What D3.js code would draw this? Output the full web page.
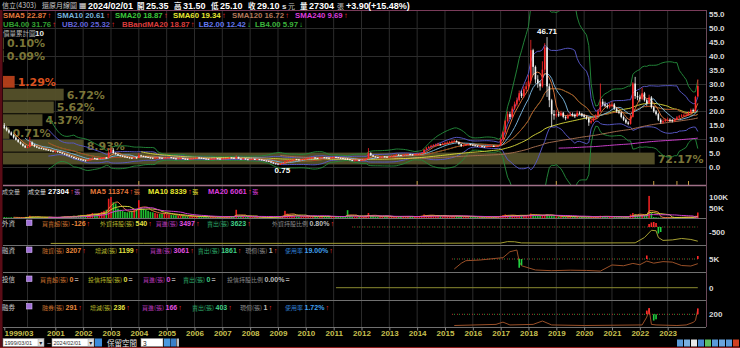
<!DOCTYPE html>
<html><head><meta charset="utf-8">
<script src="https://cdn.jsdelivr.net/npm/d3@7/dist/d3.min.js"></script>
<style>html,body{margin:0;padding:0;background:#000;overflow:hidden}svg{display:block}</style>
</head><body>
<svg id="chart" width="740" height="348"></svg>
<script>
// ================= DATA (monthly, 1999/03 .. 2024/02, adjusted prices) =================
const open = [
 15.0,14.0,13.2,12.4,11.5,10.6,9.8,9.0,8.3,7.6,
 7.0,7.2,8.8,8.0,7.4,7.0,6.8,6.6,6.4,6.2,6.0,5.7,
 5.5,5.6,5.4,5.2,4.8,4.5,4.2,3.9,3.6,3.2,3.0,2.8,
 2.6,2.4,2.2,2.5,3.0,3.2,3.0,2.9,3.1,3.2,3.4,3.3,
 5.2,6.2,5.0,4.6,4.2,4.0,3.8,3.6,3.4,3.3,3.2,3.4,
 3.3,4.2,3.9,3.8,3.6,3.4,3.3,3.2,3.3,3.4,3.3,3.2,
 3.3,3.4,3.5,3.3,3.1,3.0,3.1,3.2,3.0,2.9,2.8,3.0,
 3.1,3.2,3.4,3.3,3.2,3.0,2.9,2.8,2.9,3.0,3.1,3.0,
 2.9,3.0,3.1,3.2,3.4,3.3,3.1,3.6,3.0,2.9,3.0,2.8,
 2.7,2.8,2.9,2.7,2.8,2.7,2.5,2.3,2.2,2.0,1.6,1.3,
 1.2,1.0,1.1,1.5,2.0,2.4,2.5,2.6,2.8,2.7,2.6,2.7,
 2.9,3.0,3.2,3.3,3.4,3.2,3.1,3.3,3.5,3.4,3.3,3.2,
 3.4,3.6,3.5,3.3,3.2,3.0,2.9,2.8,2.5,2.3,2.4,2.5,
 2.4,2.5,2.7,3.0,5.0,4.2,3.8,3.6,3.5,3.6,3.8,3.7,
 3.6,3.8,4.0,4.2,4.4,4.3,4.2,4.4,4.5,4.6,4.5,4.4,
 4.6,4.6,4.8,5.0,6.2,6.8,7.2,7.6,7.8,8.0,8.2,8.0,
 8.4,8.6,8.8,9.0,9.2,9.4,9.0,8.2,7.6,7.8,8.0,8.2,
 8.0,7.8,7.6,7.4,7.5,7.3,7.2,7.4,7.5,7.6,7.4,7.5,
 7.8,10.0,12.5,16.5,19.0,18.0,21.0,22.5,24.0,26.5,25.5,28.0,
 29.0,31.0,42.0,36.0,31.5,30.0,29.0,35.0,43.0,29.0,24.0,19.0,
 18.5,19.0,18.5,19.5,18.0,17.5,18.5,19.0,18.8,18.2,19.5,19.2,
 18.5,18.0,17.5,16.0,16.5,17.5,18.5,20.0,23.5,22.5,22.0,21.5,
 22.0,22.5,21.0,20.0,19.5,18.0,17.0,16.0,15.5,18.0,30.0,25.5,
 25.0,24.5,26.5,24.0,23.0,25.0,21.5,20.0,19.0,17.0,16.0,16.5,
 17.0,17.0,16.8,16.5,17.0,17.8,18.2,18.5,18.6,18.65,19.5,20.5,
 20.05,25.35
];
const high = [
 15.8,14.6,13.6,12.8,11.8,10.9,10.1,9.2,8.5,7.9,
 7.6,10.8,9.2,8.3,7.6,7.2,7.0,6.8,6.6,6.4,6.2,5.9,
 5.9,5.8,5.6,5.3,5.0,4.7,4.4,4.0,3.7,3.4,3.2,3.0,
 2.8,2.6,2.7,3.2,3.5,3.4,3.2,3.3,3.4,3.6,3.6,6.8,
 7.2,6.8,5.3,4.8,4.4,4.2,4.0,3.8,3.6,3.5,3.6,3.6,
 5.0,4.4,4.1,3.9,3.7,3.5,3.4,3.5,3.6,3.5,3.4,3.5,
 3.6,3.7,3.6,3.4,3.2,3.3,3.4,3.3,3.1,3.0,3.2,3.3,
 3.4,3.6,3.5,3.4,3.3,3.1,3.0,3.1,3.2,3.3,3.2,3.1,
 3.2,3.3,3.4,3.6,3.5,3.4,4.2,3.7,3.1,3.2,3.1,2.9,
 3.0,3.1,3.0,2.9,2.9,2.8,2.6,2.4,2.3,2.1,1.7,1.4,
 1.3,1.2,1.6,2.2,2.6,2.7,2.8,3.0,2.9,2.8,2.9,3.1,
 3.2,3.4,3.5,3.6,3.5,3.3,3.5,3.7,3.6,3.5,3.4,3.6,
 3.8,3.7,3.6,3.4,3.3,3.1,3.2,2.9,2.6,2.6,2.7,2.6,
 2.7,2.9,3.2,6.8,5.3,4.4,3.9,3.7,3.8,4.0,3.9,3.8,
 4.0,4.2,4.4,4.7,4.6,4.4,4.6,4.8,4.9,4.8,4.6,4.8,
 4.9,5.0,5.3,6.5,7.2,7.6,8.0,8.2,8.4,8.7,8.4,8.8,
 9.0,9.2,9.4,9.6,9.9,9.6,9.1,8.3,8.1,8.3,8.5,8.4,
 8.2,8.0,7.8,7.7,7.6,7.5,7.6,7.7,7.8,7.8,7.7,8.0,
 10.5,13.0,17.0,20.0,19.8,21.8,23.5,25.0,27.5,27.5,29.0,30.5,
 33.0,45.7,42.5,36.5,33.0,31.0,38.0,44.5,46.71,30.0,24.5,20.5,
 20.5,19.8,20.2,19.8,18.5,19.2,19.8,19.6,19.2,20.3,20.0,19.5,
 19.0,18.5,18.0,17.2,18.0,19.0,20.8,30.0,24.5,23.5,22.8,23.0,
 23.5,23.0,21.5,20.5,20.0,18.5,17.5,16.5,18.8,30.5,32.4,27.0,
 26.0,28.5,27.0,24.5,26.0,25.5,22.0,20.5,19.5,17.5,17.2,17.5,
 17.8,17.5,17.2,17.5,18.3,18.7,19.0,19.2,19.2,20.0,21.0,21.0,
 25.6,31.5
];
const low = [
 13.6,12.8,12.0,11.2,10.2,9.5,8.7,8.0,7.3,6.8,
 6.7,7.0,7.7,7.1,6.8,6.5,6.4,6.2,6.0,5.8,5.5,5.3,
 5.3,5.2,5.0,4.6,4.3,4.0,3.7,3.4,3.0,2.8,2.6,2.4,
 2.2,2.0,2.1,2.4,2.9,2.9,2.7,2.8,3.0,3.1,3.1,3.2,
 4.9,4.8,4.4,4.0,3.8,3.6,3.4,3.2,3.1,3.0,3.1,3.1,
 3.2,3.8,3.6,3.4,3.3,3.1,3.0,3.1,3.2,3.1,3.0,3.1,
 3.2,3.3,3.2,3.0,2.8,2.9,3.0,2.9,2.7,2.6,2.7,2.9,
 3.0,3.1,3.2,3.1,2.9,2.8,2.7,2.7,2.8,2.9,2.9,2.8,
 2.8,2.9,3.0,3.1,3.2,3.0,3.0,2.9,2.8,2.8,2.7,2.5,
 2.6,2.7,2.6,2.6,2.6,2.4,2.2,2.1,1.8,1.4,1.1,1.0,
 0.9,0.75,1.0,1.4,1.9,2.3,2.4,2.5,2.6,2.5,2.5,2.6,
 2.8,2.9,3.1,3.2,3.1,3.0,3.0,3.2,3.3,3.2,3.1,3.1,
 3.3,3.4,3.2,3.1,2.9,2.8,2.6,2.4,2.1,2.2,2.3,2.2,
 2.3,2.4,2.6,2.9,4.0,3.6,3.4,3.3,3.4,3.5,3.5,3.4,
 3.5,3.7,3.9,4.1,4.1,4.0,4.1,4.3,4.4,4.3,4.2,4.3,
 4.4,4.5,4.7,4.9,6.0,6.6,7.0,7.3,7.5,7.8,7.7,7.9,
 8.2,8.4,8.6,8.8,9.0,8.8,8.0,7.2,7.4,7.6,7.8,7.8,
 7.6,7.4,7.2,7.2,7.1,7.0,7.1,7.2,7.3,7.2,7.2,7.4,
 7.6,9.6,12.0,16.0,17.2,17.6,20.5,21.8,23.5,24.8,25.0,27.2,
 28.0,30.0,33.0,30.0,28.5,27.5,28.5,34.0,25.2,21.5,14.4,17.0,
 17.8,18.0,18.2,17.5,16.8,17.2,18.2,18.2,17.6,18.0,18.8,18.0,
 17.5,17.0,14.8,15.5,16.2,17.2,18.2,19.8,21.8,21.5,21.0,21.0,
 21.5,20.5,19.5,19.0,17.5,16.5,15.5,15.0,15.2,17.8,24.5,24.0,
 23.5,24.0,23.5,22.0,22.5,21.0,19.5,18.5,16.5,15.5,15.5,16.2,
 16.3,16.2,16.0,16.2,16.8,17.5,17.9,18.1,18.2,18.4,19.2,19.6,
 19.8,25.1
];
const close = [
 14.0,13.2,12.4,11.5,10.6,9.8,9.0,8.3,7.6,7.0,
 7.2,8.8,8.0,7.4,7.0,6.8,6.6,6.4,6.2,6.0,5.7,5.5,
 5.6,5.4,5.2,4.8,4.5,4.2,3.9,3.6,3.2,3.0,2.8,2.6,
 2.4,2.2,2.5,3.0,3.2,3.0,2.9,3.1,3.2,3.4,3.3,5.2,
 6.2,5.0,4.6,4.2,4.0,3.8,3.6,3.4,3.3,3.2,3.4,3.3,
 4.2,3.9,3.8,3.6,3.4,3.3,3.2,3.3,3.4,3.3,3.2,3.3,
 3.4,3.5,3.3,3.1,3.0,3.1,3.2,3.0,2.9,2.8,3.0,3.1,
 3.2,3.4,3.3,3.2,3.0,2.9,2.8,2.9,3.0,3.1,3.0,2.9,
 3.0,3.1,3.2,3.4,3.3,3.1,3.6,3.0,2.9,3.0,2.8,2.7,
 2.8,2.9,2.7,2.8,2.7,2.5,2.3,2.2,2.0,1.6,1.3,1.2,
 1.0,1.1,1.5,2.0,2.4,2.5,2.6,2.8,2.7,2.6,2.7,2.9,
 3.0,3.2,3.3,3.4,3.2,3.1,3.3,3.5,3.4,3.3,3.2,3.4,
 3.6,3.5,3.3,3.2,3.0,2.9,2.8,2.5,2.3,2.4,2.5,2.4,
 2.5,2.7,3.0,5.0,4.2,3.8,3.6,3.5,3.6,3.8,3.7,3.6,
 3.8,4.0,4.2,4.4,4.3,4.2,4.4,4.5,4.6,4.5,4.4,4.6,
 4.6,4.8,5.0,6.2,6.8,7.2,7.6,7.8,8.0,8.2,8.0,8.4,
 8.6,8.8,9.0,9.2,9.4,9.0,8.2,7.6,7.8,8.0,8.2,8.0,
 7.8,7.6,7.4,7.5,7.3,7.2,7.4,7.5,7.6,7.4,7.5,7.8,
 10.0,12.5,16.5,19.0,18.0,21.0,22.5,24.0,26.5,25.5,28.0,29.0,
 31.0,42.0,36.0,31.5,30.0,29.0,35.0,43.0,29.0,24.0,19.0,18.5,
 19.0,18.5,19.5,18.0,17.5,18.5,19.0,18.8,18.2,19.5,19.2,18.5,
 18.0,17.5,16.0,16.5,17.5,18.5,20.0,23.5,22.5,22.0,21.5,22.0,
 22.5,21.0,20.0,19.5,18.0,17.0,16.0,15.5,18.0,30.0,25.5,25.0,
 24.5,26.5,24.0,23.0,25.0,21.5,20.0,19.0,17.0,16.0,16.5,17.0,
 17.0,16.8,16.5,17.0,17.8,18.2,18.5,18.6,18.65,19.5,20.5,20.05,
 25.2,29.1
];
// monthly volume, thousands of lots (張)
const volume = [
 6,5,4,5,4,3,4,3,3,4,
 5,12,8,6,5,4,5,4,3,4,3,3,
 4,5,6,8,10,8,7,9,12,10,14,16,
 15,14,18,20,25,22,20,25,30,35,40,92,
 100,75,70,45,40,35,30,28,32,35,40,45,
 85,50,45,40,35,30,28,25,22,20,22,25,
 20,18,16,15,14,12,12,11,10,10,9,9,
 9,8,8,7,8,7,6,7,6,6,7,6,
 6,7,8,10,9,8,40,12,9,8,7,6,
 6,5,5,6,5,4,4,4,5,6,7,8,
 9,10,12,35,22,18,14,12,10,9,8,9,
 10,9,8,9,8,7,8,9,10,8,7,8,
 9,8,7,8,9,10,38,12,9,8,7,6,
 6,7,12,25,15,10,8,7,8,9,8,7,
 7,8,9,8,7,8,9,8,7,8,9,8,
 9,10,12,18,15,14,13,12,11,12,10,9,
 12,10,9,10,11,12,9,8,7,8,9,8,
 7,6,6,7,6,6,7,7,6,7,8,9,
 12,15,18,14,12,15,13,12,14,13,12,15,
 16,22,18,14,12,11,15,16,18,14,12,10,
 9,8,7,8,7,8,9,8,7,8,7,7,
 7,6,8,7,6,7,9,12,10,8,7,8,
 8,7,6,7,6,6,7,8,18,25,20,15,
 18,15,16,20,105,25,6,5,4,3.5,3.5,3,
 3.2,3.2,3.2,3.2,5,5.5,5.3,5.2,5.5,6,5,6.6,
 12,27.304
];
// price-volume profile (價量累計圖, 10 bands, bottom to top), percent
const profilePct = [72.17, 8.93, 0.71, 4.37, 5.62, 6.72, 1.29, 0, 0.09, 0.10];
// x-axis labels
const yearLabels = ["1999/03","2001","2002","2003","2004","2005","2006","2007","2008","2009","2010","2011","2012","2013","2014","2015","2016","2017","2018","2019","2020","2021","2022","2023"];
const yearLabelMonth = [0,22,34,46,58,70,82,94,106,118,130,142,154,166,178,190,202,214,226,238,250,262,274,286];
const gridMonths = [10,22,34,46,58,70,82,94,106,118,130,142,154,166,178,190,202,214,226,238,250,262,274,286];
const priceTicks = [0,5,10,15,20,25,30,35,40,45,50,55];
const eventMonths = [58,178,238,280,290,295];
// foreign investors (外資): holdings line (sparse points) and net buy/sell bars
const fHoldMonths = [20,60,120,180,214,217,220,223,240,272,276,279,281,282,284,288,292,296,299];
const fHoldVals   = [80,100,90,110,150,450,420,180,150,200,1300,2800,2700,1300,700,800,1100,900,540];
const fNetMonths = [278,279,280,281,282,283];
const fNetVals   = [300,450,500,400,-650,-500];
// margin (融資) balance and change
const mBalMonths = [194,197,199,205,212,215,218,221,222,223,229,236,244,251,257,262,267,271,274,277,280,284,288,292,296,299];
const mBalVals   = [1150,3350,4350,4600,5250,5500,7800,8450,4000,2400,770,500,700,600,350,2700,2400,3300,2800,4200,3400,4000,3800,2500,2300,3207];
const mChgMonths = [222,223,277,299];
const mChgVals   = [-3500,-2500,1400,1199];
// investment trust (投信)
const tHoldMonths = [143,299];
const tHoldVals   = [0,0];
// short (融券) balance and change
const sBalMonths = [194,212,215,218,228,232,236,250,275,277,278,279,281,290,294,297,298,299];
const sBalVals   = [0,20,60,10,20,80,10,0,10,150,300,20,10,0,10,55,90,291];
const sChgMonths = [277,278,280,281,299];
const sChgVals   = [150,250,-250,-200,236];

// ================= RENDER =================
const svg = d3.select('#chart');
const FONT = "'Liberation Sans','DejaVu Sans',Arial,sans-serif";
const CJK = "'Noto Sans CJK TC','Noto Sans CJK SC','Noto Sans',sans-serif";
const N = close.length;
const PL = 3, PR = 706;
const x = d3.scaleLinear().domain([0, N-1]).range([4.3, 697.8]);
const y = d3.scaleLinear().domain([0,55]).range([167,14]);
const vy = d3.scaleLinear().domain([0,100]).range([218.3,197]);

svg.append('rect').attr('width',740).attr('height',348).attr('fill','#000');

function T(x0,y0,s,fill,size,opt={}){
  return svg.append('text').attr('x',x0).attr('y',y0).attr('fill',fill)
    .attr('font-size',size).attr('font-family',opt.cjk?CJK:FONT)
    .attr('font-weight',opt.bold?'bold':'normal').attr('text-anchor',opt.anchor||'start').text(s);
}
const W = t => t.node().getComputedTextLength();

// grid
const grid = svg.append('g');
gridMonths.forEach(m=>{
  grid.append('line').attr('x1',x(m)).attr('x2',x(m)).attr('y1',10).attr('y2',327)
    .attr('stroke','#2c2c2c').attr('stroke-width',1);
});
[0,10,20,30,40,50].forEach(v=>{
  grid.append('line').attr('x1',PL).attr('x2',PR).attr('y1',Math.round(y(v))+0.5).attr('y2',Math.round(y(v))+0.5)
    .attr('stroke','#2c2c2c').attr('stroke-width',1);
});

// clip paths
const defs = svg.append('defs');
defs.append('clipPath').attr('id','cm').append('rect').attr('x',PL).attr('y',10).attr('width',PR-PL).attr('height',175.5);
defs.append('clipPath').attr('id','cv').append('rect').attr('x',PL).attr('y',186).attr('width',PR-PL).attr('height',32.5);

// price-volume profile
const pLo = d3.min(low), pHi = d3.max(high), pStep = (pHi-pLo)/profilePct.length;
const pw = d3.scaleLinear().domain([0,100]).range([0,903]);
const lastClose = close[N-1];
const prof = svg.append('g');
profilePct.forEach((p,j)=>{
  const b0 = pLo + j*pStep, b1 = b0 + pStep;
  const cur = lastClose >= b0 && lastClose < b1;
  const yt = y(b1), yb = y(b0);
  prof.append('rect').attr('x',PL).attr('y',yt+0.5).attr('width',Math.max(pw(p),0.6)).attr('height',yb-yt-1)
    .attr('fill',cur?'#b8401a':'#55512a').attr('opacity',p>0?0.95:0);
  if(p>0){
    prof.append('text').attr('x',PL+pw(p)+3).attr('y',(yt+yb)/2+4)
      .attr('font-family',"'DejaVu Sans',sans-serif").attr('font-size',11).attr('font-weight','bold')
      .attr('fill',cur?'#d9501e':'#7a7538').text(d3.format('.2f')(p)+'%');
  }
});

// moving averages & bollinger
function sma(a,n){return a.map((_,i)=> i<n-1?null:d3.mean(a.slice(i-n+1,i+1)));}
function band(a,n,k){return a.map((_,i)=>{ if(i<n-1) return null; const s=a.slice(i-n+1,i+1); const m=d3.mean(s); const sd=Math.sqrt(d3.mean(s.map(v=>(v-m)*(v-m)))); return m+k*sd;});}
const lineGen = (sc)=> d3.line().defined(d=>d[1]!=null).x(d=>x(d[0])).y(d=>sc(d[1]));
const mainLines = [
  {v:band(close,20,4),c:'#23883a'},{v:band(close,20,-4),c:'#23883a'},
  {v:band(close,20,2),c:'#5858c8'},{v:band(close,20,-2),c:'#5858c8'},
  {v:sma(close,240),c:'#d040d0'},{v:sma(close,120),c:'#a87050'},
  {v:sma(close,60),c:'#d4d43a'},{v:sma(close,20),c:'#3cc83c'},
  {v:sma(close,20),c:'#b83222'},{v:sma(close,10),c:'#78b4dc'},{v:sma(close,5),c:'#e0783c'}
];
const lg = svg.append('g').attr('clip-path','url(#cm)');
mainLines.forEach(L=>{
  lg.append('path').datum(L.v.map((v,i)=>[i,v])).attr('d',lineGen(y)).attr('fill','none')
    .attr('stroke',L.c).attr('stroke-width',1).attr('opacity',0.95);
});

// candles
const cg = svg.append('g').attr('clip-path','url(#cm)');
for(let i=0;i<N;i++){
  const up = close[i] >= open[i];
  const col = up ? '#ff2a2a' : '#f2f2f2';
  cg.append('line').attr('x1',x(i)).attr('x2',x(i)).attr('y1',y(high[i])).attr('y2',y(low[i])).attr('stroke',col).attr('stroke-width',0.8);
  const yt = y(Math.max(open[i],close[i])), yb = y(Math.min(open[i],close[i]));
  cg.append('rect').attr('x',x(i)-0.8).attr('y',yt).attr('width',1.6).attr('height',Math.max(yb-yt,1)).attr('fill',col);
}
// max / min labels
const iMax = d3.maxIndex(high), iMin = d3.minIndex(low);
T(x(iMax), y(high[iMax])-3, d3.format('.2f')(high[iMax]), '#ffffff', 8, {bold:true, anchor:'middle'});
T(x(iMin)+2, y(low[iMin])+8, d3.format('.2f')(low[iMin]), '#ffffff', 8, {bold:true, anchor:'middle'});
// event markers
eventMonths.forEach(m=>{
  svg.append('line').attr('x1',x(m)).attr('x2',x(m)).attr('y1',181).attr('y2',185).attr('stroke','#c8a040').attr('stroke-width',1);
});

// volume panel
const vg = svg.append('g').attr('clip-path','url(#cv)');
for(let i=0;i<N;i++){
  const up = close[i] >= open[i];
  vg.append('rect').attr('x',x(i)-0.8).attr('y',vy(volume[i])).attr('width',1.6)
    .attr('height',Math.max(vy(0)-vy(volume[i]),0.5)).attr('fill',up?'#e82020':'#20c030');
}
[{n:5,c:'#e0783c'},{n:10,c:'#d4d43a'},{n:20,c:'#d040d0'}].forEach(L=>{
  vg.append('path').datum(sma(volume,L.n).map((v,i)=>[i,v])).attr('d',lineGen(vy)).attr('fill','none').attr('stroke',L.c).attr('stroke-width',1);
});

// lower panels scales
const fHold = d3.scaleLinear().domain([0,3000]).range([243.8,229.3]);
const fNet = d3.scaleLinear().domain([0,-500]).range([227,232]);
const mBal = d3.scaleLinear().domain([0,5000]).range([272,259]);
const mChg = d3.scaleLinear().domain([0,-1000]).range([259,261.5]);
const tHold = d3.scaleLinear().domain([-1,1]).range([297,278.4]);
const sBal = d3.scaleLinear().domain([0,200]).range([325.5,314.3]);
const sChg = d3.scaleLinear().domain([0,240]).range([314.3,308.3]);
const sparse = (ms,vs)=> ms.map((m,k)=>[m,vs[k]]);

function dotBase(y0, m0, m1){
  svg.append('line').attr('x1',x(m0)).attr('x2',x(m1)).attr('y1',y0).attr('y2',y0).attr('stroke','#c03030').attr('stroke-width',1).attr('stroke-dasharray','1,4');
  svg.append('line').attr('x1',x(m0)+2).attr('x2',x(m1)).attr('y1',y0).attr('y2',y0).attr('stroke','#30a040').attr('stroke-width',1).attr('stroke-dasharray','1,4');
}
function bars(ms,vs,sc){
  ms.forEach((m,k)=>{
    const v=vs[k], y0=sc(0), y1=sc(v);
    svg.append('rect').attr('x',x(m)-0.8).attr('y',Math.min(y0,y1)).attr('width',1.6).attr('height',Math.abs(y1-y0))
      .attr('fill',v>=0?'#ff2a2a':'#20d040');
  });
}
// 外資
dotBase(227,150,299);
svg.append('path').datum(sparse(fHoldMonths,fHoldVals)).attr('d',lineGen(fHold)).attr('fill','none').attr('stroke','#a6a032').attr('stroke-width',1);
bars(fNetMonths,fNetVals,fNet);
// 融資
dotBase(259,193,299);
svg.append('path').datum(sparse(mBalMonths,mBalVals)).attr('d',lineGen(mBal)).attr('fill','none').attr('stroke','#9a5028').attr('stroke-width',1);
bars(mChgMonths,mChgVals,mChg);
// 投信
svg.append('path').datum(sparse(tHoldMonths,tHoldVals)).attr('d',lineGen(tHold)).attr('fill','none').attr('stroke','#8a8a30').attr('stroke-width',1);
// 融券
dotBase(314.3,193,299);
svg.append('path').datum(sparse(sBalMonths,sBalVals)).attr('d',lineGen(sBal)).attr('fill','none').attr('stroke','#9a5028').attr('stroke-width',1);
bars(sChgMonths,sChgVals,sChg);

// frame / separators
svg.append('rect').attr('x',0).attr('y',10).attr('width',2.5).attr('height',337).attr('fill','#5a0c16');
svg.append('line').attr('x1',PL).attr('x2',PR).attr('y1',10.5).attr('y2',10.5).attr('stroke','#7a3c5a');
svg.append('line').attr('x1',PR+0.5).attr('x2',PR+0.5).attr('y1',10).attr('y2',327).attr('stroke','#6a4a5a');
svg.append('line').attr('x1',PL).attr('x2',PR).attr('y1',185.5).attr('y2',185.5).attr('stroke','#a07088').attr('stroke-width',1.5);
[218.5,245.5,272.5,300.5,327.5].forEach(v=>{
  svg.append('line').attr('x1',PL).attr('x2',PR).attr('y1',v).attr('y2',v).attr('stroke','#707070').attr('stroke-width',1.2);
});
svg.append('line').attr('x1',0).attr('x2',740).attr('y1',347.5).attr('y2',347.5).attr('stroke','#8a1a1a');

// axes (right)
function styleAxis(g){
  g.select('.domain').remove();
  g.selectAll('text').attr('fill','#d8d8d8').attr('font-family',FONT).attr('font-size',8).attr('font-weight','bold');
}
svg.append('g').attr('transform',`translate(${PR},0)`).call(d3.axisRight(y).tickValues(priceTicks).tickFormat(d3.format('.1f')).tickSize(0).tickPadding(3)).call(styleAxis);
svg.append('g').attr('transform',`translate(${PR},0)`).call(d3.axisRight(vy).tickValues([50,100]).tickFormat(d=>d+'K').tickSize(0).tickPadding(3)).call(styleAxis);
svg.append('g').attr('transform',`translate(${PR},0)`).call(d3.axisRight(fNet).tickValues([-500]).tickFormat(d=>d).tickSize(0).tickPadding(3)).call(styleAxis);
svg.append('g').attr('transform',`translate(${PR},0)`).call(d3.axisRight(mBal).tickValues([5000]).tickFormat(d=>(d/1000)+'K').tickSize(0).tickPadding(3)).call(styleAxis);
svg.append('g').attr('transform',`translate(${PR},0)`).call(d3.axisRight(tHold).tickValues([0]).tickFormat(d=>d).tickSize(0).tickPadding(3)).call(styleAxis);
svg.append('g').attr('transform',`translate(${PR},0)`).call(d3.axisRight(sBal).tickValues([200]).tickFormat(d=>d).tickSize(0).tickPadding(3)).call(styleAxis);

// bottom axis
const bx = svg.append('g').attr('transform','translate(0,327.5)')
  .call(d3.axisBottom(x).tickValues(yearLabelMonth).tickFormat((d,i)=>yearLabels[i]).tickSize(3).tickPadding(0));
bx.select('.domain').remove();
bx.selectAll('line').attr('stroke','#888');
bx.selectAll('text').attr('fill','#c8c050').attr('font-family',FONT).attr('font-size',8).attr('font-weight','bold');
bx.selectAll('text').filter((d,i)=>i===0).attr('text-anchor','start').attr('x',-0.3);

// ---------- header row 1 ----------
T(2,8,'信立(4303)','#c8c8c8',7,{cjk:true});
T(42,8,'還原月線圖','#c8c8c8',7,{cjk:true});
T(79,8,'▦','#e0e0e0',8);
const row1 = [[88,'2024/02/01'],[146,'25.35'],[183,'31.50'],[220,'25.10'],[257,'29.10'],[309,'27304'],[346,'+3.90'],[368,'(+15.48%)']];
row1.forEach(r=>T(r[0],8.5,r[1],'#ffffff',9,{bold:true}));
[[137,'開'],[174,'高'],[211,'低'],[248,'收'],[300,'量']].forEach(r=>T(r[0],8.5,r[1],'#f0f0f0',7.5,{cjk:true,bold:true}));
T(282,8.5,'s','#e0e0e0',8,{bold:true});
T(288,8.5,'元','#c0c0c0',7,{cjk:true});
T(337,8.5,'張','#c0c0c0',7,{cjk:true});

// ---------- header rows 2-4 (flowing, never overlapping) ----------
function indicatorRow(y0, items){
  let cursor = 0;
  items.forEach(r=>{
    const x0 = Math.max(r[0], cursor);
    const t = T(x0,y0,r[1],r[2],7.8,{bold:true});
    const a = T(x0+W(t)+1.2,y0,r[3],r[3]==='↓'?'#30d040':'#ff3030',7.8,{bold:true});
    cursor = x0 + W(t) + 1.2 + W(a) + 4;
  });
}
indicatorRow(18,[[3,'SMA5 22.87','#e0783c','↑'],[57,'SMA10 20.61','#78b4dc','↑'],[115,'SMA20 18.87','#3cc83c','↑'],
 [173,'SMA60 19.34','#e6e632','↑'],[232,'SMA120 16.72','#b47a5a','↑'],[295,'SMA240 9.69','#dc3cdc','↑']]);
indicatorRow(27,[[3,'UB4.00 31.76','#32a032','↑'],[62,'UB2.00 25.32','#6464dc','↑'],[122,'BBandMA20 18.87','#dc3c3c','↑'],
 [195,'LB2.00 12.42','#6478f0','↓'],[253,'LB4.00 5.97','#3cb43c','↓']]);
T(3,36,'價量累計圖','#b8b8b8',6.5,{cjk:true});
T(35,36,'10','#e8e8e8',8,{bold:true});

// ---------- lower panel headers (flowing) ----------
const C = {
  o:['#c8702e','#e8883c'], y:['#b8b82a','#e0e040'], m:['#b838b8','#e050e0'],
  g:['#2ea868','#40d088'], k:['#8a8a8a','#bcbcbc'], b:['#2f7fd0','#40a0f0']
};
function headerRow(y0, groups){
  let cursor = 0;
  groups.forEach(gp=>{
    let cx = Math.max(gp[0], cursor);
    const t1=T(cx,y0,gp[1],C[gp[2]][0],6,{cjk:true}); cx+=W(t1)+1.5;
    const t2=T(cx,y0,gp[3],C[gp[2]][1],7,{bold:true}); cx+=W(t2)+1;
    const t3=T(cx,y0,gp[4],gp[4]==='='?'#a0a0a0':'#ff3030',7,{bold:true}); cx+=W(t3);
    cursor = cx + 4;
  });
}
function icon(y0){
  svg.append('rect').attr('x',26.5).attr('y',y0-6).attr('width',5.5).attr('height',5.5).attr('fill','#a070d8').attr('stroke','#d8b8f8').attr('stroke-width',0.6);
}
// volume header
T(2,194,'成交量','#c0c0c0',6,{cjk:true});
(function(){ let cx=28; const a=T(cx,194,'成交量','#dcdcdc',6,{cjk:true}); cx+=W(a)+2;
  const b=T(cx,194,'27304','#ffffff',7.5,{bold:true}); cx+=W(b)+1.2;
  const c=T(cx,194,'↑','#ff3030',7.5,{bold:true}); cx+=W(c)+0.5;
  T(cx,194,'張','#b070d0',6,{cjk:true}); })();
(function(){ let cursor=0;
 [[90,'MA5 11374','#e0783c'],[148,'MA10 8339','#e6e632'],[208,'MA20 6061','#dc3cdc']].forEach(r=>{
  let cx=Math.max(r[0],cursor); const a=T(cx,194,r[1],r[2],7.5,{bold:true}); cx+=W(a)+1.2;
  const b=T(cx,194,'↑','#ff3030',7.5,{bold:true}); cx+=W(b)+0.5;
  const c=T(cx,194,'張',r[2],6,{cjk:true}); cursor=cx+W(c)+4;
 }); })();
// 外資
T(2,226,'外資','#c8c8c8',6.5,{cjk:true}); icon(226);
headerRow(226,[[42,'買賣超(張)','o','-126','↑'],[100,'外資持股(張)','y','540','↑'],[153,'買進(張)','m','3497','↑'],
  [207,'賣出(張)','g','3623','↑'],[272,'外資持股比例','k','0.80%','↑']]);
// 融資
T(2,253,'融資','#c8c8c8',6.5,{cjk:true}); icon(253);
headerRow(253,[[42,'融資(張)','o','3207','↑'],[95,'增減(張)','y','1199','↑'],[150,'買進(張)','m','3061','↑'],
  [192,'賣出(張)','g','1861','↑'],[240,'現償(張)','k','1','↑'],[285,'使用率','b','19.00%','↑']]);
// 投信
T(2,282,'投信','#c8c8c8',6.5,{cjk:true}); icon(282);
headerRow(282,[[40,'買賣超(張)','o','0','='],[88,'投信持股(張)','y','0','='],[143,'買進(張)','m','0','='],
  [183,'賣出(張)','g','0','='],[227,'投信持股比例','k','0.00%','=']]);
// 融券
T(2,309.5,'融券','#c8c8c8',6.5,{cjk:true}); icon(309.5);
headerRow(309.5,[[42,'融券(張)','o','291','↑'],[90,'增減(張)','y','236','↑'],[142,'買進(張)','m','166','↑'],
  [192,'賣出(張)','g','403','↑'],[240,'現償(張)','k','1','↑'],[285,'使用率','b','1.72%','↑']]);

// ---------- bottom controls ----------
function selectBox(x0,w,s){
  svg.append('rect').attr('x',x0).attr('y',338.5).attr('width',w).attr('height',8).attr('fill','#ffffff').attr('stroke','#909090').attr('stroke-width',0.6);
  T(x0+1.5,345.3,s,'#303030',5.5);
  svg.append('rect').attr('x',x0+w-6).attr('y',339).attr('width',5.5).attr('height',7).attr('fill','#e0e0e0').attr('stroke','#a0a0a0').attr('stroke-width',0.4);
  T(x0+w-3.3,345,'▾','#202020',6,{anchor:'middle'});
}
selectBox(3,41,'1999/03/01');
T(47,345.5,'~','#d0d0d0',7);
selectBox(52,42,'2024/02/01');
svg.append('rect').attr('x',95).attr('y',338.5).attr('width',7).attr('height',8).attr('fill','#3c8cdc');
T(107,346,'保留空間','#e8e8e8',7.5,{cjk:true});
svg.append('rect').attr('x',141).attr('y',338.5).attr('width',22).attr('height',8).attr('fill','#ffffff').attr('stroke','#909090').attr('stroke-width',0.6);
T(143,345.5,'3','#202020',6.5);
svg.append('rect').attr('x',164).attr('y',338.5).attr('width',6).attr('height',8).attr('fill','#4a9ae0');
svg.append('rect').attr('x',170.5).attr('y',338.5).attr('width',5.5).attr('height',8).attr('fill','#3a80c8');
svg.append('rect').attr('x',176.5).attr('y',338.5).attr('width',2.5).attr('height',8).attr('fill','#c0c0c0');
['#5a9ad8','#7ab0e0','#e8e8e8','#4a8ad0','#60c060','#5a9ad8','#6aa4dc','#5a9ad8','#d04020']
 .forEach((c,k)=>svg.append('rect').attr('x',677+k*7).attr('y',339.5).attr('width',6).attr('height',7).attr('fill',c));
</script>
</body></html>
